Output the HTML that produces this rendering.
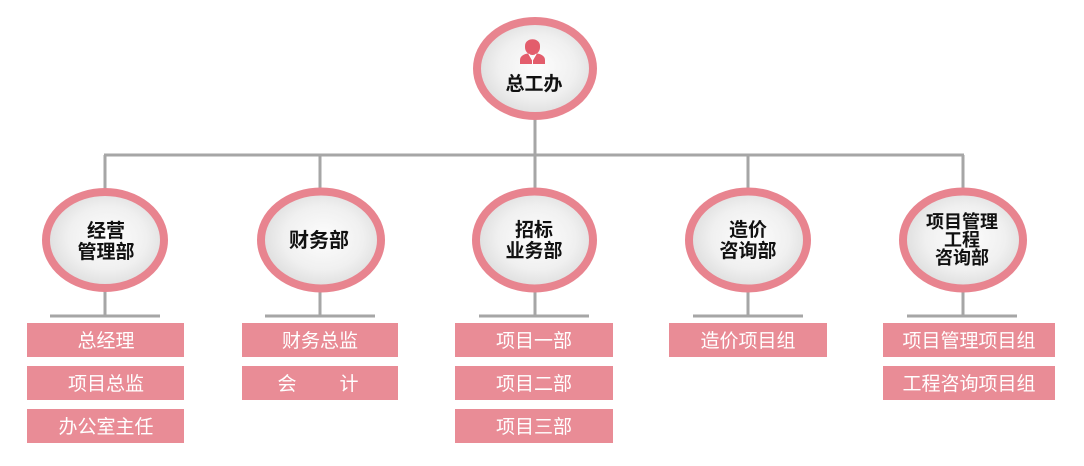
<!DOCTYPE html>
<html>
<head>
<meta charset="utf-8">
<style>
html,body{margin:0;padding:0;background:#ffffff;}
svg{display:block;}
text{font-family:"Liberation Sans","Noto Sans CJK SC",sans-serif;}
.t{font-weight:bold;fill:#111;text-anchor:middle;}
.b{fill:#ffffff;text-anchor:middle;font-size:19px;}
</style>
</head>
<body>
<svg width="1084" height="466" viewBox="0 0 1084 466" xmlns="http://www.w3.org/2000/svg">
<defs>
<radialGradient id="g" cx="52%" cy="48%" r="60%">
<stop offset="0%" stop-color="#fdfdfd"/>
<stop offset="55%" stop-color="#f0f0f0"/>
<stop offset="100%" stop-color="#d6d6d6"/>
</radialGradient>
</defs>
<rect width="1084" height="466" fill="#ffffff"/>
<!-- connectors -->
<g stroke="#a6a6a6" stroke-width="3" fill="none">
<line x1="535" y1="118" x2="535" y2="155"/>
<line x1="104" y1="155" x2="964" y2="155"/>
<line x1="105" y1="155" x2="105" y2="190"/>
<line x1="320" y1="155" x2="320" y2="190"/>
<line x1="535" y1="155" x2="535" y2="190"/>
<line x1="748" y1="155" x2="748" y2="190"/>
<line x1="963" y1="155" x2="963" y2="190"/>
<line x1="105" y1="290" x2="105" y2="316"/>
<line x1="320" y1="290" x2="320" y2="316"/>
<line x1="535" y1="290" x2="535" y2="316"/>
<line x1="748" y1="290" x2="748" y2="316"/>
<line x1="963" y1="290" x2="963" y2="316"/>
<line x1="50" y1="316" x2="160" y2="316"/>
<line x1="265" y1="316" x2="375" y2="316"/>
<line x1="479" y1="316" x2="589" y2="316"/>
<line x1="693" y1="316" x2="803" y2="316"/>
<line x1="907" y1="316" x2="1017" y2="316"/>
</g>
<!-- ellipses -->
<g fill="url(#g)" stroke="#e8848f" stroke-width="8">
<ellipse cx="535" cy="68.5" rx="58" ry="47.5"/>
<ellipse cx="105" cy="240" rx="59" ry="48"/>
<ellipse cx="321" cy="240" rx="60" ry="48.5"/>
<ellipse cx="534.5" cy="240" rx="58.5" ry="48.5"/>
<ellipse cx="748" cy="240" rx="59" ry="48.5"/>
<ellipse cx="963" cy="240" rx="60" ry="48.5"/>
</g>
<!-- person icon -->
<g fill="#e35d6c">
<path d="M525,46 C525,37 540,37 540,46 L540,47 C540,53 535,55 532.5,55 C530,55 525,53 525,47 Z"/>
<path d="M520,64 L520,60 C520,56 524,54 528,53.5 L532.5,60 L537,53.5 C541,54 545,56 545,60 L545,64 Z"/>
</g>
<path d="M529,54 L532.5,60 L536,54" fill="none" stroke="#ffffff" stroke-width="1.2"/>
<line x1="532.5" y1="60" x2="532.5" y2="64" stroke="#ffffff" stroke-width="1"/>
<!-- ellipse labels -->
<text class="t" x="534" y="90" font-size="19">总工办</text>
<text class="t" x="106" y="237" font-size="19">经营</text>
<text class="t" x="106" y="258" font-size="19">管理部</text>
<text class="t" x="319" y="247" font-size="20">财务部</text>
<text class="t" x="534" y="236" font-size="19">招标</text>
<text class="t" x="534" y="257" font-size="19">业务部</text>
<text class="t" x="748" y="236" font-size="19">造价</text>
<text class="t" x="748" y="257" font-size="19">咨询部</text>
<text class="t" x="962" y="228" font-size="18">项目管理</text>
<text class="t" x="962" y="246" font-size="18">工程</text>
<text class="t" x="962" y="264" font-size="18">咨询部</text>
<!-- boxes -->
<g fill="#e98c96">
<rect x="27" y="323" width="157" height="34"/>
<rect x="27" y="366" width="157" height="34"/>
<rect x="27" y="409" width="157" height="34"/>
<rect x="242" y="323" width="156" height="34"/>
<rect x="242" y="366" width="156" height="34"/>
<rect x="455" y="323" width="158" height="34"/>
<rect x="455" y="366" width="158" height="34"/>
<rect x="455" y="409" width="158" height="34"/>
<rect x="669" y="323" width="158" height="34"/>
<rect x="883" y="323" width="172" height="34"/>
<rect x="883" y="366" width="172" height="34"/>
</g>
<text class="b" x="106" y="347" font-size="20">总经理</text>
<text class="b" x="106" y="390" font-size="20">项目总监</text>
<text class="b" x="106" y="433" font-size="20">办公室主任</text>
<text class="b" x="320" y="347" font-size="20">财务总监</text>
<text class="b" x="287" y="390" font-size="20">会</text>
<text class="b" x="349" y="390" font-size="20">计</text>
<text class="b" x="534" y="347" font-size="20">项目一部</text>
<text class="b" x="534" y="390" font-size="20">项目二部</text>
<text class="b" x="534" y="433" font-size="20">项目三部</text>
<text class="b" x="748" y="347" font-size="20">造价项目组</text>
<text class="b" x="969" y="347" font-size="20">项目管理项目组</text>
<text class="b" x="969" y="390" font-size="20">工程咨询项目组</text>
</svg>
</body>
</html>
